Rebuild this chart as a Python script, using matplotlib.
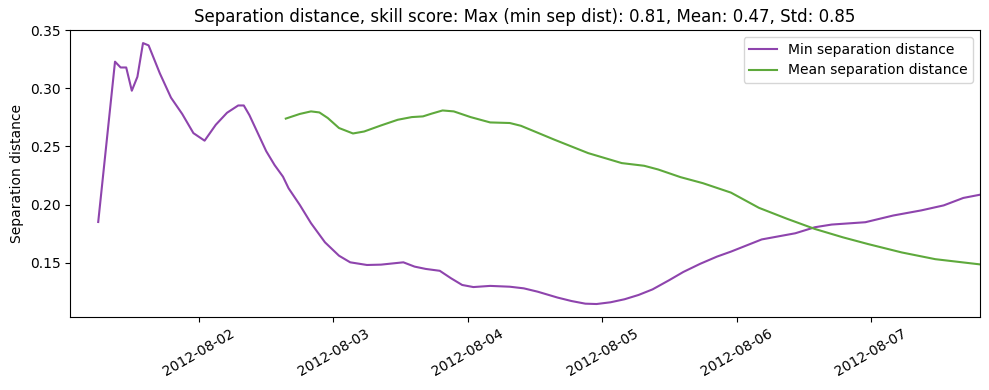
import numpy as np
import pandas as pd
import matplotlib
matplotlib.use('Agg')
import matplotlib.pyplot as plt
import matplotlib.dates as mdates

START = pd.Timestamp('2012-08-01 06:00')

# Min separation distance (hours since START, value)
min_hours = [0, 3, 4, 5, 6, 7, 8, 9, 11, 13, 15, 17, 19, 21, 23, 25, 26, 27,
             30, 31.5, 33, 34, 36, 38, 40.5, 43, 45, 48, 50.5, 54.5, 56.5, 58.5,
             61, 63, 65, 67, 70, 73.5, 76, 78.5, 82, 84.5, 87, 89, 91.5, 94,
             96.5, 99, 102, 104.5, 107.5, 110.5, 113, 118.5, 124.5, 128, 131,
             137, 142, 147, 151, 154.5, 157.5]
min_sep = [0.185, 0.323, 0.318, 0.318, 0.298, 0.310, 0.339, 0.337, 0.313, 0.292,
           0.278, 0.2615, 0.255, 0.2687, 0.279, 0.2853, 0.2853, 0.277,
           0.246, 0.234, 0.224, 0.214, 0.1997, 0.184, 0.1675, 0.156, 0.1503,
           0.148, 0.1483, 0.1503, 0.1466, 0.1446, 0.143, 0.1366, 0.1308, 0.129,
           0.130, 0.1293, 0.1279, 0.125, 0.120, 0.117, 0.1147, 0.1144, 0.1159,
           0.1185, 0.1222, 0.127, 0.135, 0.142, 0.149, 0.1552, 0.1595, 0.170,
           0.1753, 0.1805, 0.1828, 0.1848, 0.1906, 0.195, 0.1993, 0.2057, 0.2085]

# Mean separation distance
mean_hours = [33.5, 36, 38, 39.5, 41, 43, 45.5, 47.5, 50.5, 53.5, 56, 58, 59.5,
              61.5, 63.5, 66.5, 70, 73.5, 75.5, 81.5, 87.5, 93.5, 97.5, 100,
              104, 108, 113, 118, 123, 128, 133, 137.5, 143.5, 149.5, 157.5]
mean_sep = [0.274, 0.278, 0.2802, 0.2793, 0.2745, 0.2659, 0.2612, 0.2629, 0.2681,
            0.273, 0.2753, 0.2759, 0.2782, 0.281, 0.2802, 0.2753, 0.2707, 0.2702,
            0.2678, 0.2558, 0.2443, 0.2357, 0.2334, 0.2302, 0.2236, 0.2184,
            0.2103, 0.1972, 0.1878, 0.179, 0.1718, 0.166, 0.1588, 0.153, 0.1485]

t_min = START + pd.to_timedelta(min_hours, unit='h')
t_mean = START + pd.to_timedelta(mean_hours, unit='h')

fig, ax = plt.subplots(figsize=(9.89, 3.9), dpi=100)
ax.plot(t_min, min_sep, color='#8e44ad', label='Min separation distance')
ax.plot(t_mean, mean_sep, color='#5ea93c', label='Mean separation distance')

ax.set_xlim(START - pd.Timedelta(hours=5), t_min[-1])
ax.xaxis.set_major_locator(mdates.DayLocator())
ax.xaxis.set_major_formatter(mdates.DateFormatter('%Y-%m-%d'))
plt.setp(ax.get_xticklabels(), rotation=30)

ax.set_ylabel('Separation distance')
ax.set_title('Separation distance, skill score: Max (min sep dist): 0.81, Mean: 0.47, Std: 0.85')
ax.legend(loc='upper right')

fig.subplots_adjust(left=0.071, right=0.991, top=0.923, bottom=0.187)
plt.savefig('out.png')
